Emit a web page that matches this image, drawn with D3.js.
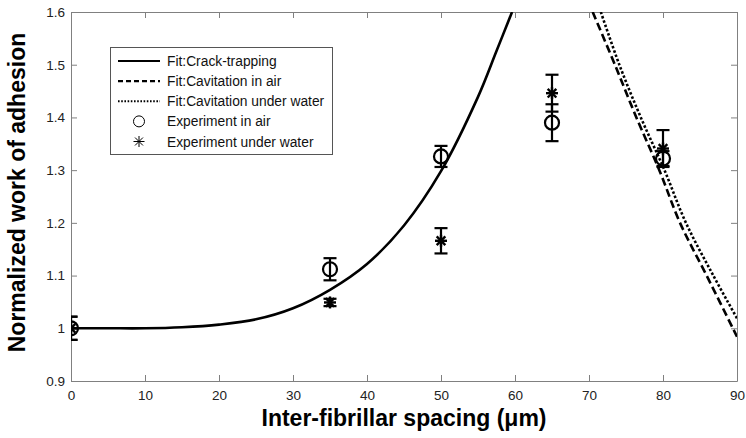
<!DOCTYPE html>
<html>
<head>
<meta charset="UTF-8" />
<title>Normalized work of adhesion</title>
<script src="https://d3js.org/d3.v7.min.js"></script>
<style>
  body { margin: 0; background: #fff; }
  text { font-family: "Liberation Sans", Arial, sans-serif; }
</style>
</head>
<body>
<div id="chart"></div>
<script type="text/javascript">

// fitted curves (spacing in um, normalized work)
var crackX = [0, 5, 10, 15, 20, 25, 30, 35, 40, 45, 50, 55, 57.5, 59.6]
var crackY = [1.0, 1.0, 1.0, 1.002, 1.007, 1.017, 1.038, 1.073, 1.122, 1.195, 1.298, 1.439, 1.526, 1.6]

var cavAirX = [70.5, 73.5, 76.4, 79.5, 82.3, 85.9, 90]
var cavAirY = [1.6, 1.5, 1.4, 1.3, 1.2, 1.1, 0.984]

var cavWaterX = [71.6, 74.1, 77.0, 80.2, 83.1, 86.8, 90]
var cavWaterY = [1.6, 1.5, 1.4, 1.3, 1.2, 1.1, 1.019]

// experiments
var expX = [0, 35, 50, 65, 80]
var airY = [1.0, 1.112, 1.326, 1.390, 1.322]
var airErr = [0.022, 0.021, 0.02, 0.035, 0.014]
var waterY = [1.0, 1.049, 1.166, 1.446, 1.341]
var waterErr = [0.022, 0.007, 0.024, 0.035, 0.035]

var xTicks = [0, 10, 20, 30, 40, 50, 60, 70, 80, 90]
var yTicks = [0.9, 1.0, 1.1, 1.2, 1.3, 1.4, 1.5, 1.6]

var legendLabels = ["Fit:Crack-trapping", "Fit:Cavitation in air", "Fit:Cavitation under water",
                    "Experiment in air", "Experiment under water"]

var W = 746, H = 438
var plot = {left: 71, right: 737, top: 12, bottom: 381}

var svg = d3.select("#chart").append("svg")
    .attr("width", W)
    .attr("height", H)

var x = d3.scaleLinear().domain([0, 90]).range([plot.left, plot.right])
var y = d3.scaleLinear().domain([0.9, 1.6]).range([plot.bottom, plot.top])

svg.append("clipPath").attr("id", "clip")
  .append("rect")
    .attr("x", plot.left).attr("y", plot.top)
    .attr("width", plot.right - plot.left).attr("height", plot.bottom - plot.top)

var fmt = d3.format("~g")
var axisColor = "#808080"

// box with inward ticks on all four sides
function styleAxis(g, labels) {
  g.select(".domain").attr("stroke", axisColor).attr("stroke-width", 1)
  g.selectAll(".tick line").attr("stroke", axisColor)
  g.selectAll(".tick text")
    .attr("fill", "#222")
    .style("font-size", "13.5px")
    .style("font-family", "'Liberation Sans', Arial, sans-serif")
  if (!labels) g.selectAll(".tick text").remove()
}

svg.append("g")
  .attr("transform", "translate(0," + plot.bottom + ")")
  .call(d3.axisBottom(x).tickValues(xTicks).tickSizeInner(-6).tickSizeOuter(0).tickPadding(9).tickFormat(fmt))
  .call(styleAxis, true)
svg.append("g")
  .attr("transform", "translate(0," + plot.top + ")")
  .call(d3.axisTop(x).tickValues(xTicks).tickSizeInner(-6).tickSizeOuter(0))
  .call(styleAxis, false)
svg.append("g")
  .attr("transform", "translate(" + plot.left + ",0)")
  .call(d3.axisLeft(y).tickValues(yTicks).tickSizeInner(-6).tickSizeOuter(0).tickPadding(6).tickFormat(fmt))
  .call(styleAxis, true)
svg.append("g")
  .attr("transform", "translate(" + plot.right + ",0)")
  .call(d3.axisRight(y).tickValues(yTicks).tickSizeInner(-6).tickSizeOuter(0))
  .call(styleAxis, false)

// axis titles
svg.append("text")
  .attr("x", (plot.left + plot.right) / 2)
  .attr("y", 426)
  .attr("text-anchor", "middle")
  .style("font-size", "23px")
  .style("font-weight", "bold")
  .text("Inter-fibrillar spacing (\u03bcm)")

svg.append("text")
  .attr("transform", "translate(25," + ((plot.top + plot.bottom) / 2 - 4) + ") rotate(-90)")
  .attr("text-anchor", "middle")
  .style("font-size", "23px")
  .style("font-weight", "bold")
  .text("Normalized work of adhesion")

// fit lines
var line = d3.line()
  .x(function(d) { return x(d[0]) })
  .y(function(d) { return y(d[1]) })
  .curve(d3.curveCatmullRom)

var fits = [
  {xs: crackX, ys: crackY, dash: null},
  {xs: cavAirX, ys: cavAirY, dash: "8,4"},
  {xs: cavWaterX, ys: cavWaterY, dash: "2.5,2"}
]

var plotArea = svg.append("g").attr("clip-path", "url(#clip)")

plotArea.selectAll("path.fit")
  .data(fits)
  .enter()
  .append("path")
    .attr("class", "fit")
    .attr("fill", "none")
    .attr("stroke", "#000")
    .attr("stroke-width", 2.6)
    .attr("stroke-dasharray", function(d) { return d.dash })
    .attr("d", function(d) { return line(d.xs.map(function(v, i) { return [v, d.ys[i]] })) })

// markers
function drawStar(g, cx, cy, r, sw) {
  var a = r * 0.72
  var segs = [[-r, 0, r, 0], [0, -r, 0, r], [-a, -a, a, a], [-a, a, a, -a]]
  segs.forEach(function(s) {
    g.append("line")
      .attr("x1", cx + s[0]).attr("y1", cy + s[1])
      .attr("x2", cx + s[2]).attr("y2", cy + s[3])
      .attr("stroke", "#000").attr("stroke-width", sw)
  })
}

function errorBars(g, ys, errs) {
  var cap = 6.5
  expX.forEach(function(v, i) {
    var cx = x(v), top = y(ys[i] + errs[i]), bot = y(ys[i] - errs[i])
    g.append("line").attr("x1", cx).attr("x2", cx).attr("y1", top).attr("y2", bot)
    g.append("line").attr("x1", cx - cap).attr("x2", cx + cap).attr("y1", top).attr("y2", top)
    g.append("line").attr("x1", cx - cap).attr("x2", cx + cap).attr("y1", bot).attr("y2", bot)
  })
  g.selectAll("line").attr("stroke", "#000").attr("stroke-width", 2.2)
}

var airG = plotArea.append("g")
errorBars(airG.append("g"), airY, airErr)
airG.selectAll("circle")
  .data(expX)
  .enter()
  .append("circle")
    .attr("cx", function(d) { return x(d) })
    .attr("cy", function(d, i) { return y(airY[i]) })
    .attr("r", 7)
    .attr("fill", "none")
    .attr("stroke", "#000")
    .attr("stroke-width", 2.2)

var waterG = plotArea.append("g")
errorBars(waterG.append("g"), waterY, waterErr)
expX.forEach(function(v, i) { drawStar(waterG, x(v), y(waterY[i]), 6, 2.4) })

// legend
var lg = svg.append("g")
lg.append("rect")
  .attr("x", 110.5).attr("y", 47.5)
  .attr("width", 222).attr("height", 107)
  .attr("fill", "#fff")
  .attr("stroke", "#555")
  .attr("stroke-width", 1)

var rowY = d3.scalePoint().domain(legendLabels).range([61, 141.5])

lg.selectAll("text")
  .data(legendLabels)
  .enter()
  .append("text")
    .attr("x", 167)
    .attr("y", function(d) { return rowY(d) + 5 })
    .style("font-size", "13.8px")
    .attr("fill", "#111")
    .text(function(d) { return d })

fits.forEach(function(f, i) {
  lg.append("line")
    .attr("x1", 118).attr("x2", 160)
    .attr("y1", rowY(legendLabels[i])).attr("y2", rowY(legendLabels[i]))
    .attr("stroke", "#000")
    .attr("stroke-width", 2.2)
    .attr("stroke-dasharray", f.dash === "2.5,2" ? "1.6,1.6" : (f.dash ? "5,3" : null))
})
lg.append("circle")
  .attr("cx", 139).attr("cy", rowY(legendLabels[3]))
  .attr("r", 5.5)
  .attr("fill", "none").attr("stroke", "#000").attr("stroke-width", 1)
drawStar(lg, 139, rowY(legendLabels[4]), 5.5, 1)
</script>
</body>
</html>
